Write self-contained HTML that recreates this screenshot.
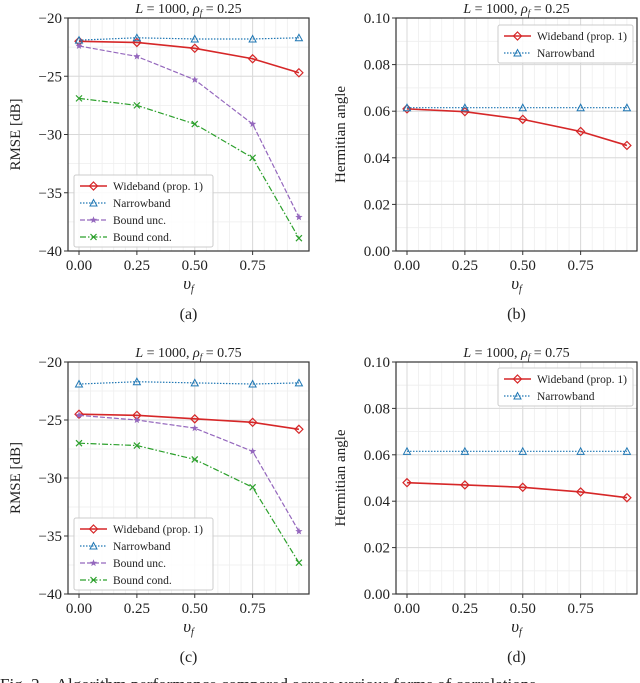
<!DOCTYPE html>
<html><head><meta charset="utf-8"><style>
body{margin:0;background:#fff;width:640px;height:683px;overflow:hidden}
svg{display:block;font-family:"Liberation Serif",serif}
</style></head><body>
<svg id="c" width="640" height="683"></svg>
<script>
const xs = [0, 0.25, 0.5, 0.75, 0.95];
const xTicks = ["0.00","0.25","0.50","0.75"];
const xTickVals = [0,0.25,0.5,0.75];
const rmseTicks = [-20,-25,-30,-35,-40];
const angTicks = [0.00,0.02,0.04,0.06,0.08,0.10];
const aWide = [-22.0,-22.1,-22.6,-23.5,-24.7];
const aNarrow = [-21.9,-21.7,-21.8,-21.8,-21.7];
const aUnc = [-22.4,-23.3,-25.3,-29.1,-37.1];
const aCond = [-26.9,-27.5,-29.1,-32.0,-38.9];
const bWide = [0.061,0.0598,0.0565,0.0513,0.0453];
const bNarrow = [0.0615,0.0615,0.0615,0.0615,0.0615];
const cWide = [-24.5,-24.6,-24.9,-25.2,-25.8];
const cNarrow = [-21.9,-21.7,-21.8,-21.9,-21.8];
const cUnc = [-24.6,-25.0,-25.7,-27.7,-34.6];
const cCond = [-27.0,-27.2,-28.4,-30.8,-37.3];
const dWide = [0.048,0.047,0.046,0.044,0.0415];
const dNarrow = [0.0615,0.0615,0.0615,0.0615,0.0615];

const NS="http://www.w3.org/2000/svg", svg=document.getElementById('c');
function el(t,a,p){const e=document.createElementNS(NS,t);for(const k in a)e.setAttribute(k,a[k]);(p||svg).appendChild(e);return e;}
function txt(s,x,y,a,p){const e=el('text',Object.assign({x:x,y:y,'font-size':14,'text-anchor':'middle',fill:'#222'},a||{}),p);e.innerHTML=s;return e;}

const COL={wide:'#d62728',narrow:'#1f77b4',unc:'#9467bd',cond:'#2ca02c'};
const DASH={wide:'',narrow:'1.5,1.5',unc:'5,2',cond:'6,2,1.5,2'};

function marker(g,kind,x,y){
  let m;
  if(kind==='wide') m=el('polygon',{points:`${x},${y-4} ${x+4},${y} ${x},${y+4} ${x-4},${y}`,fill:'none',stroke:COL.wide,'stroke-width':1.2},g);
  else if(kind==='narrow') m=el('polygon',{points:`${x},${y-3.5} ${x+3.5},${y+3} ${x-3.5},${y+3}`,fill:'none',stroke:COL.narrow,'stroke-width':1},g);
  else if(kind==='unc'){let p='';for(let i=0;i<10;i++){const r=i%2?1.6:3.8,a=-Math.PI/2+i*Math.PI/5;p+=`${x+r*Math.cos(a)},${y+r*Math.sin(a)} `;}m=el('polygon',{points:p,fill:COL.unc},g);}
  else {m=el('path',{d:`M${x-3},${y-3}L${x+3},${y+3}M${x-3},${y+3}L${x+3},${y-3}`,stroke:COL.cond,'stroke-width':1.2},g);}
  
  
}

function panel(o){
  const g=el('g',{});
  
  
  const L=o.L,R=o.R,T=o.T,B=o.B;
  const X=v=>L+11+v*231.5;
  const Y=v=>T+(o.ymax-v)/(o.ymax-o.ymin)*(B-T);
  for(let v=-0.05;v<=1.0;v+=0.05){const x=X(v);if(x>L&&x<R)el('line',{x1:x,x2:x,y1:T,y2:B,stroke:'#eee','stroke-width':0.8},g);}
  for(let v=o.ymin;v<=o.ymax+1e-9;v+=o.minor){el('line',{x1:L,x2:R,y1:Y(v),y2:Y(v),stroke:'#eee','stroke-width':0.8},g);}
  xTickVals.forEach(v=>el('line',{x1:X(v),x2:X(v),y1:T,y2:B,stroke:'#d9d9d9','stroke-width':1},g));
  o.ticks.forEach(v=>el('line',{x1:L,x2:R,y1:Y(v),y2:Y(v),stroke:'#d9d9d9','stroke-width':1},g));
  o.series.forEach(s=>{
    const pts=s.data.map((v,i)=>X(xs[i])+','+Y(v)).join(' ');
    const pl=el('polyline',{points:pts,fill:'none',stroke:COL[s.k],'stroke-width':s.k==='wide'?1.6:1.2,'stroke-dasharray':DASH[s.k]},g);
    
    
    s.data.forEach((v,i)=>marker(g,s.k,X(xs[i]),Y(v)));
  });
  el('rect',{x:L,y:T,width:R-L,height:B-T,fill:'none',stroke:'#333','stroke-width':1.2},g);
  xTickVals.forEach((v,i)=>{el('line',{x1:X(v),x2:X(v),y1:B,y2:B+4,stroke:'#333'},g);txt(xTicks[i],X(v),B+19,{'font-size':15},g);});
  o.ticks.forEach((v,i)=>{el('line',{x1:L-4,x2:L,y1:Y(v),y2:Y(v),stroke:'#333'},g);txt(o.tickLabels[i],L-6,Y(v)+5,{'text-anchor':'end','font-size':15},g);});
  txt('<tspan font-style="italic">υ</tspan><tspan font-style="italic" font-size="10" dy="3">f</tspan>',(L+R)/2,B+38,{'font-size':17},g);
  txt('<tspan font-style="italic">L</tspan> = 1000, <tspan font-style="italic">ρ</tspan><tspan font-style="italic" font-size="9" dy="3">f</tspan><tspan dy="-3"> = '+o.rho+'</tspan>',(L+R)/2,T-5,{'font-size':14},g);
  txt(o.ylabel,0,0,{'font-size':15,transform:`translate(${o.ylx},${(T+B)/2}) rotate(-90)`},g);
  txt(o.letter,(L+R)/2,B+68,{'font-size':16},g);
  const lg=el('g',{},g);
  
  
  const names={wide:'Wideband (prop. 1)',narrow:'Narrowband',unc:'Bound unc.',cond:'Bound cond.'};
  el('rect',{x:o.lx,y:o.ly,width:o.lw,height:o.series.length*17+4,fill:'#fff','fill-opacity':0.85,stroke:'#ccc',rx:2},lg);
  o.series.forEach((s,i)=>{
    const y=o.ly+11+i*17,x=o.lx+6;
    const ln=el('line',{x1:x,x2:x+27,y1:y,y2:y,stroke:COL[s.k],'stroke-width':s.k==='wide'?1.6:1.2,'stroke-dasharray':DASH[s.k]},lg);
    
    
    marker(lg,s.k,x+13.5,y);
    txt(names[s.k],x+33,y+4,{'text-anchor':'start','font-size':11.5},lg);
  });
}
const rl=['−20','−25','−30','−35','−40'], al=['0.00','0.02','0.04','0.06','0.08','0.10'];
panel({name:'panel-a',L:68,R:309,T:18,B:251,ymin:-40,ymax:-20,minor:2.5,ticks:rmseTicks,tickLabels:rl,rho:'0.25',ylabel:'RMSE [dB]',ylx:20,letter:'(a)',lx:74,ly:175,lw:139,
 series:[{k:'wide',data:aWide},{k:'narrow',data:aNarrow},{k:'unc',data:aUnc},{k:'cond',data:aCond}]});
panel({name:'panel-b',L:396,R:637,T:18,B:251,ymin:0,ymax:0.1,minor:0.01,ticks:angTicks,tickLabels:al,rho:'0.25',ylabel:'Hermitian angle',ylx:345,letter:'(b)',lx:498,ly:25,lw:135,
 series:[{k:'wide',data:bWide},{k:'narrow',data:bNarrow}]});
panel({name:'panel-c',L:68,R:309,T:362,B:594,ymin:-40,ymax:-20,minor:2.5,ticks:rmseTicks,tickLabels:rl,rho:'0.75',ylabel:'RMSE [dB]',ylx:20,letter:'(c)',lx:74,ly:518,lw:139,
 series:[{k:'wide',data:cWide},{k:'narrow',data:cNarrow},{k:'unc',data:cUnc},{k:'cond',data:cCond}]});
panel({name:'panel-d',L:396,R:637,T:362,B:594,ymin:0,ymax:0.1,minor:0.01,ticks:angTicks,tickLabels:al,rho:'0.75',ylabel:'Hermitian angle',ylx:345,letter:'(d)',lx:498,ly:368,lw:135,
 series:[{k:'wide',data:dWide},{k:'narrow',data:dNarrow}]});
const cap=txt('Fig. 2.&#160;&#160; Algorithm performance compared across various forms of correlations',0,690,{'text-anchor':'start','font-size':17});


</script>
</body></html>
